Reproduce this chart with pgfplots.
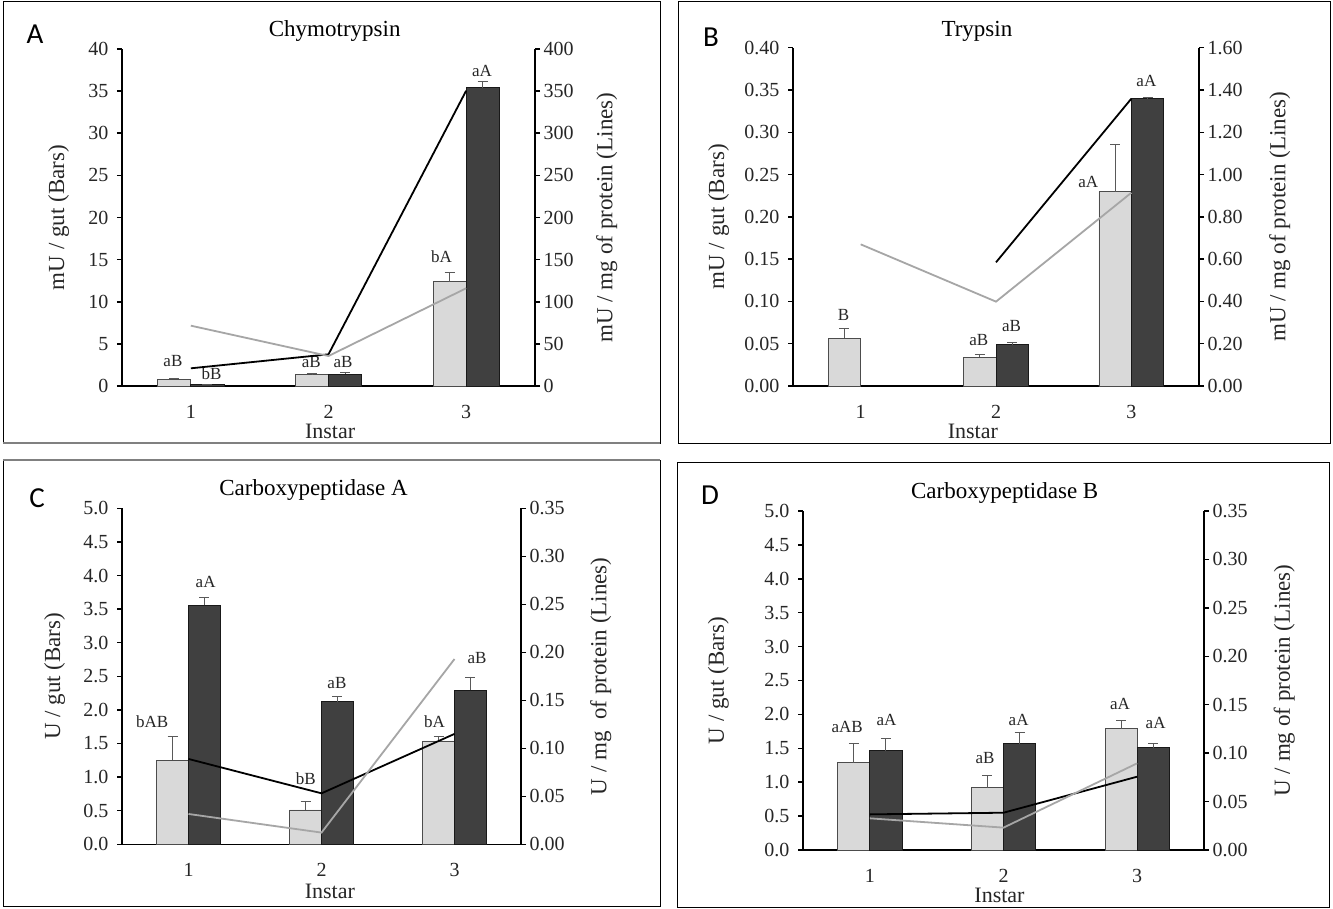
\documentclass[border=0pt]{standalone}
\usepackage{pgfplots}
\pgfplotsset{compat=1.18}
\usepackage{pgfplotstable}
\usepackage{fontspec}
\setmainfont{Liberation Serif}
\newfontfamily\letterfont{Carlito}
\definecolor{lightbar}{HTML}{D9D9D9}
\definecolor{darkbar}{HTML}{404040}
\definecolor{lineGray}{HTML}{A6A6A6}
\definecolor{errcol}{HTML}{595959}
\definecolor{txt}{HTML}{262626}

% ---------------- data ----------------
\pgfplotstableread{
x y e
1 0.80 0.10
2 1.38 0.08
3 12.40 1.05
}\Alight
\pgfplotstableread{
x y e
1 0.15 0.03
2 1.40 0.22
3 35.40 0.70
}\Adark
\pgfplotstableread{
x y e
1 0.0564 0.0116
2 0.0339 0.0031
3 0.2297 0.0560
}\Blight
\pgfplotstableread{
x y e
2 0.0490 0.0030
3 0.3397 0.0013
}\Bdark
\pgfplotstableread{
x y e
1 1.250 0.350
2 0.511 0.124
3 1.538 0.062
}\Clight
\pgfplotstableread{
x y e
1 3.557 0.119
2 2.123 0.077
3 2.290 0.200
}\Cdark
\pgfplotstableread{
x y e
1 1.288 0.285
2 0.919 0.177
3 1.790 0.117
}\Dlight
\pgfplotstableread{
x y e
1 1.465 0.177
2 1.568 0.167
3 1.509 0.059
}\Ddark

\pgfplotsset{
  panelbase/.style={
    scale only axis,
    anchor=south west,
    xmin=0.5, xmax=3.5,
    ymin=0,
    clip=false,
    scaled y ticks=false,
    tick align=outside,
    major tick length=5pt,
    axis line style={-, line width=1.5pt, black},
    every tick/.style={black, line width=1.5pt},
    tick label style={font=\fontsize{20}{24}\selectfont, text=txt},
    /pgf/number format/assume math mode=true,
    every axis title/.style={anchor=center, font=\fontsize{23}{27}\selectfont, text=black},
    every axis x label/.style={anchor=center, inner sep=0pt, font=\fontsize{22}{26}\selectfont, text=txt},
  },
  leftaxis/.style={
    panelbase,
    axis y line*=left,
    axis x line*=bottom,
    xtick={1,2,3},
    x tick style={draw=none},
    xticklabel style={anchor=center, inner sep=0pt, yshift=-21pt},
    yticklabel style={xshift=-5pt},
  },
  rightaxis/.style={
    panelbase,
    axis y line*=right,
    axis x line=none,
    xtick=\empty,
  },
  errstyle/.style={
    error bars/y dir=plus, error bars/y explicit,
    error bars/error bar style={errcol, line width=0.9pt},
    error bars/error mark options={errcol, line width=0.9pt, mark size=5pt, rotate=90}},
  lightbars/.style={ybar, bar width=0.24, bar shift=0pt, fill=lightbar, draw=black!70, line width=0.7pt, errstyle},
  darkbars/.style={ybar, bar width=0.24, bar shift=0pt, fill=darkbar, draw=black!90, line width=0.7pt, errstyle},
  blackplot/.style={black, line width=1.8pt, no markers},
  grayplot/.style={lineGray, line width=1.8pt, no markers},
}
\tikzset{lbl/.style={font=\fontsize{17}{20}\selectfont, text=txt, inner sep=0pt},
  ylab/.style={rotate=90, font=\fontsize{23}{27}\selectfont, text=txt, anchor=center},
  panelletter/.style={font=\letterfont\fontsize{29}{32}\selectfont, anchor=center}}

% light bars sit left of the category centre, dark bars right of it
\newcommand{\lightplot}[1]{\addplot[lightbars] table[x expr=\thisrow{x}-0.12, y=y, y error=e] {#1};}
\newcommand{\darkplot}[1]{\addplot[darkbars] table[x expr=\thisrow{x}+0.12, y=y, y error=e] {#1};}

\begin{document}
\begin{tikzpicture}
\useasboundingbox (0pt,0pt) rectangle (1333pt,-909pt);
\fill[white] (0pt,0pt) rectangle (1333pt,-909pt);
% panel frames
\draw[black, line width=1pt] (3pt,-1.5pt) rectangle (660pt,-443pt);
\draw[black, line width=1pt] (678pt,-1.5pt) rectangle (1330pt,-443pt);
\draw[black, line width=1pt] (3pt,-460pt) rectangle (660pt,-906pt);
\draw[black, line width=1pt] (677pt,-462pt) rectangle (1329pt,-907pt);
\draw[gray, line width=2pt] (3pt,-443pt) -- (660pt,-443pt);
\draw[gray, line width=2pt] (3pt,-460pt) -- (660pt,-460pt);

% ================= Panel A =================
\begin{axis}[leftaxis, at={(122pt,-386pt)}, width=413pt, height=337pt,
  ymax=40, ytick={0,5,10,15,20,25,30,35,40},
  title={Chymotrypsin}, title style={at={(axis description cs:0.515,1)}, yshift=18pt},
  xlabel={Instar}, xlabel style={at={(axis description cs:0.504,-0.134)}}]
\lightplot{\Alight}
\darkplot{\Adark}
\node[lbl] at (axis cs:0.87,2.97) {aB};
\node[lbl] at (axis cs:1.15,1.5) {bB};
\node[lbl] at (axis cs:1.875,2.9) {aB};
\node[lbl] at (axis cs:2.105,2.9) {aB};
\node[lbl] at (axis cs:2.82,15.35) {bA};
\node[lbl] at (axis cs:3.115,37.4) {aA};
\node[ylab] at (rel axis cs:-0.1535,0.5) {mU / gut (Bars)};
\end{axis}
\begin{axis}[rightaxis, at={(122pt,-386pt)}, width=413pt, height=337pt,
  ymax=400, ytick={0,50,100,150,200,250,300,350,400}]
\addplot[blackplot] coordinates {(1,21) (2,37.6) (3,350.5)};
\addplot[grayplot] coordinates {(1,71.6) (2,35.6) (3,116)};
\node[ylab] at (rel axis cs:1.174,0.5) {mU / mg of protein (Lines)};
\end{axis}
\node[panelletter] at (35pt,-34pt) {A};

% ================= Panel B =================
\begin{axis}[leftaxis, at={(793pt,-386pt)}, width=406pt, height=338.3pt,
  ymax=0.4, ytick={0,0.05,0.10,0.15,0.20,0.25,0.30,0.35,0.40},
  yticklabel style={/pgf/number format/.cd, fixed, fixed zerofill, precision=2},
  title={Trypsin}, title style={at={(axis description cs:0.453,1)}, yshift=16pt},
  xlabel={Instar}, xlabel style={at={(axis description cs:0.443,-0.134)}}]
\lightplot{\Blight}
\darkplot{\Bdark}
\node[lbl] at (axis cs:0.873,0.0839) {B};
\node[lbl] at (axis cs:1.873,0.054) {aB};
\node[lbl] at (axis cs:2.115,0.0713) {aB};
\node[lbl] at (axis cs:2.682,0.2416) {aA};
\node[lbl] at (axis cs:3.111,0.3606) {aA};
\node[ylab] at (rel axis cs:-0.183,0.5) {mU / gut (Bars)};
\end{axis}
\begin{axis}[rightaxis, at={(793pt,-386pt)}, width=406pt, height=338.3pt,
  ymax=1.6, ytick={0,0.2,0.4,0.6,0.8,1.0,1.2,1.4,1.6},
  yticklabel style={/pgf/number format/.cd, fixed, fixed zerofill, precision=2}]
\addplot[blackplot] coordinates {(2,0.585) (3,1.359)};
\addplot[grayplot] coordinates {(1,0.67) (2,0.399) (3,0.914)};
\node[ylab] at (rel axis cs:1.199,0.5) {mU / mg of protein (Lines)};
\end{axis}
\node[panelletter] at (711pt,-37pt) {B};

% ================= Panel C =================
\begin{axis}[leftaxis, at={(122pt,-844.3pt)}, width=399pt, height=336pt,
  ymax=5, ytick={0,0.5,1.0,1.5,2.0,2.5,3.0,3.5,4.0,4.5,5.0},
  yticklabel style={/pgf/number format/.cd, fixed, fixed zerofill, precision=1},
  title={Carboxypeptidase A}, title style={at={(axis description cs:0.48,1)}, yshift=18pt},
  xlabel={Instar}, xlabel style={at={(axis description cs:0.521,-0.14)}}]
\lightplot{\Clight}
\darkplot{\Cdark}
\node[lbl] at (axis cs:0.727,1.825) {bAB};
\node[lbl] at (axis cs:1.129,3.90) {aA};
\node[lbl] at (axis cs:1.881,0.98) {bB};
\node[lbl] at (axis cs:2.116,2.396) {aB};
\node[lbl] at (axis cs:2.849,1.825) {bA};
\node[lbl] at (axis cs:3.17,2.778) {aB};
\node[ylab] at (rel axis cs:-0.169,0.5) {U / gut (Bars)};
\end{axis}
\begin{axis}[rightaxis, at={(122pt,-844.3pt)}, width=399pt, height=336pt,
  ymax=0.35, ytick={0,0.05,0.10,0.15,0.20,0.25,0.30,0.35},
  yticklabel style={/pgf/number format/.cd, fixed, fixed zerofill, precision=2}]
\addplot[blackplot] coordinates {(1,0.0889) (2,0.0531) (3,0.115)};
\addplot[grayplot] coordinates {(1,0.0316) (2,0.0122) (3,0.193)};
\node[ylab] at (rel axis cs:1.2,0.5) {U / mg\ \ of protein (Lines)};
\end{axis}
\node[panelletter] at (37pt,-498pt) {C};

% ================= Panel D =================
\begin{axis}[leftaxis, at={(803pt,-850pt)}, width=401pt, height=339pt,
  ymax=5, ytick={0,0.5,1.0,1.5,2.0,2.5,3.0,3.5,4.0,4.5,5.0},
  yticklabel style={/pgf/number format/.cd, fixed, fixed zerofill, precision=1},
  title={Carboxypeptidase B}, title style={at={(axis description cs:0.503,1)}, yshift=17.7pt},
  xlabel={Instar}, xlabel style={at={(axis description cs:0.49,-0.134)}}]
\lightplot{\Dlight}
\darkplot{\Ddark}
\node[lbl] at (axis cs:0.83,1.819) {aAB};
\node[lbl] at (axis cs:1.125,1.917) {aA};
\node[lbl] at (axis cs:1.862,1.352) {aB};
\node[lbl] at (axis cs:2.113,1.917) {aA};
\node[lbl] at (axis cs:2.871,2.148) {aA};
\node[lbl] at (axis cs:3.138,1.868) {aA};
\node[ylab] at (rel axis cs:-0.211,0.5) {U / gut (Bars)};
\end{axis}
\begin{axis}[rightaxis, at={(803pt,-850pt)}, width=401pt, height=339pt,
  ymax=0.35, ytick={0,0.05,0.10,0.15,0.20,0.25,0.30,0.35},
  yticklabel style={/pgf/number format/.cd, fixed, fixed zerofill, precision=2}]
\addplot[blackplot] coordinates {(1,0.0368) (2,0.0385) (3,0.0757)};
\addplot[grayplot] coordinates {(1,0.0327) (2,0.0231) (3,0.0895)};
\node[ylab] at (rel axis cs:1.2,0.5) {U / mg of protein (Lines)};
\end{axis}
\node[panelletter] at (710pt,-495pt) {D};
\end{tikzpicture}
\end{document}
